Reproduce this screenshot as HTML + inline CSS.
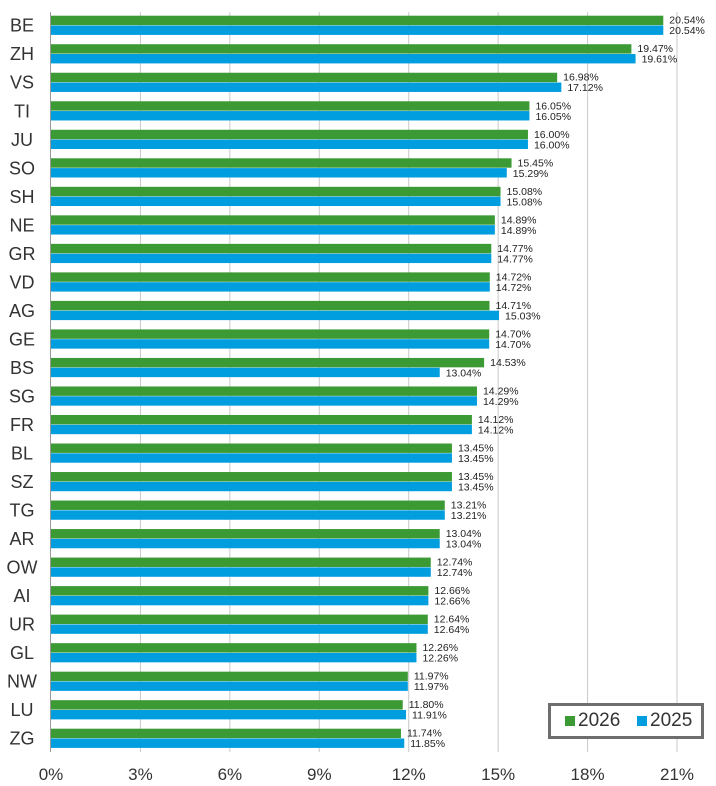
<!DOCTYPE html>
<html><head><meta charset="utf-8"><style>
body{margin:0;background:#fff;}
svg{display:block;font-family:"Liberation Sans",sans-serif;}
</style></head><body>
<svg id="chart" width="716" height="786"></svg>
<script>
const categories=["BE","ZH","VS","TI","JU","SO","SH","NE","GR","VD","AG","GE","BS","SG","FR","BL","SZ","TG","AR","OW","AI","UR","GL","NW","LU","ZG"];
const values2026=[20.54,19.47,16.98,16.05,16.00,15.45,15.08,14.89,14.77,14.72,14.71,14.70,14.53,14.29,14.12,13.45,13.45,13.21,13.04,12.74,12.66,12.64,12.26,11.97,11.80,11.74];
const values2025=[20.54,19.61,17.12,16.05,16.00,15.29,15.08,14.89,14.77,14.72,15.03,14.70,13.04,14.29,14.12,13.45,13.45,13.21,13.04,12.74,12.66,12.64,12.26,11.97,11.91,11.85];
const ticks=[0,3,6,9,12,15,18,21];
const NS="http://www.w3.org/2000/svg";
const svg=document.getElementById("chart");
const x=v=>51+v*(626/21);
const rowTop=i=>15.7+i*28.52;
function mk(t,a){const e=document.createElementNS(NS,t);for(const k in a)e.setAttribute(k,a[k]);svg.appendChild(e);return e;}
ticks.forEach(t=>{
  if(t>0){const g=mk("line",{x1:x(t),x2:x(t),y1:12,y2:752,stroke:"#c8c8c8","stroke-width":1});
  
  }
  const l=mk("text",{x:x(t),y:780,"text-anchor":"middle","font-size":17,fill:"#333"});l.textContent=t+"%";
  
  
});
categories.forEach((c,i)=>{
  const y=rowTop(i);
  const lab=mk("text",{x:22,y:y+16,"text-anchor":"middle","font-size":18,fill:"#333"});lab.textContent=c;
  
  
  const g=mk("rect",{x:51,y:y,width:x(values2026[i])-51,height:9.4,fill:"#3c9a35"});
  
  
  const b=mk("rect",{x:51,y:y+9.8,width:x(values2025[i])-51,height:9.4,fill:"#009ddf"});
  
  
  const t1=mk("text",{x:x(values2026[i])+6,y:y+8,"font-size":10.5,fill:"#222"});t1.textContent=values2026[i].toFixed(2)+"%";
  
  
  const t2=mk("text",{x:x(values2025[i])+6,y:y+18.5,"font-size":10.5,fill:"#222"});t2.textContent=values2025[i].toFixed(2)+"%";
  
  
});
const ax=mk("line",{x1:50.5,x2:50.5,y1:12,y2:752,stroke:"#999","stroke-width":1});


</script>
<div style="position:absolute;left:548px;top:703px;width:150px;height:30px;border:3px solid #6e6e6e;background:#fff;font-family:'Liberation Sans',sans-serif;font-size:19px;color:#333;">
  <span style="position:absolute;left:14px;top:4px;"><span style="display:inline-block;width:10px;height:10px;background:#3c9a35;margin-right:3px;"></span>2026</span>
  <span style="position:absolute;left:86px;top:4px;"><span style="display:inline-block;width:10px;height:10px;background:#009ddf;margin-right:3px;"></span>2025</span>
</div>
</body></html>
